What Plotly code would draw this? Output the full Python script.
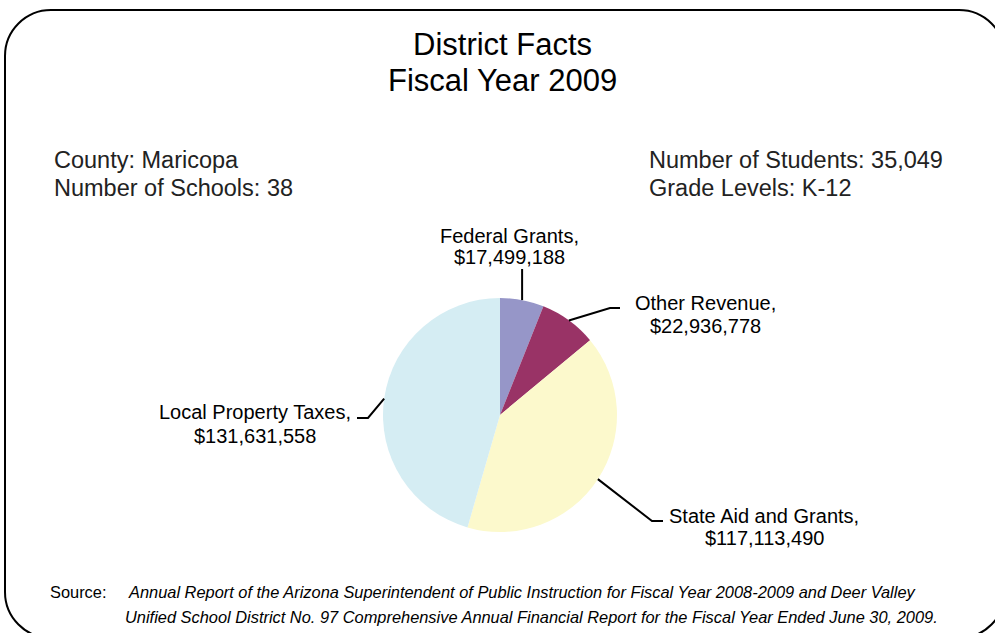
import math
import plotly.graph_objects as go

W, H = 995, 633

# ---- data ----
categories = ["Federal Grants", "Other Revenue", "State Aid and Grants", "Local Property Taxes"]
values = [17499188, 22936778, 117113490, 131631558]
colors = ["#9696c8", "#993366", "#fcf9cc", "#d5edf3"]

title_lines = ["District Facts", "Fiscal Year 2009"]
info_left = ["County: Maricopa", "Number of Schools: 38"]
info_right = ["Number of Students: 35,049", "Grade Levels: K-12"]
source_lines = [
    "Annual Report of the Arizona Superintendent of Public Instruction for Fiscal Year 2008-2009 and Deer Valley",
    "Unified School District No. 97 Comprehensive Annual Financial Report for the Fiscal Year Ended June 30, 2009.",
]


def px(x):
    return x / W


def py(y):
    return 1 - y / H


FONT = "Liberation Sans, Arial, Helvetica, sans-serif"
NARROW = "Liberation Sans Narrow, Arial Narrow, Liberation Sans, sans-serif"

# pie geometry (pixels)
cx, cy, R = 500, 415, 117

fig = go.Figure()
fig.add_trace(go.Pie(
    labels=categories,
    values=values,
    marker=dict(colors=colors, line=dict(width=0)),
    sort=False,
    direction="clockwise",
    rotation=0,
    textinfo="none",
    hoverinfo="label+value+percent",
    showlegend=False,
    domain=dict(x=[px(cx - R), px(cx + R)], y=[py(cy + R), py(cy - R)]),
))

annotations = []
# title
for t, yc in zip(title_lines, [44, 80]):
    annotations.append(dict(text=t, x=px(502), y=py(yc), xref="paper", yref="paper",
                            xanchor="center", yanchor="middle", showarrow=False,
                            font=dict(family=FONT, size=31, color="#000")))
# info
for t, yc in zip(info_left, [160, 188]):
    annotations.append(dict(text=t, x=px(52), y=py(yc), xref="paper", yref="paper",
                            xanchor="left", yanchor="middle", showarrow=False,
                            font=dict(family=FONT, size=23.5, color="#222")))
for t, yc in zip(info_right, [160, 188]):
    annotations.append(dict(text=t, x=px(647), y=py(yc), xref="paper", yref="paper",
                            xanchor="left", yanchor="middle", showarrow=False,
                            font=dict(family=FONT, size=23.5, color="#222")))

# slice labels
label_pos = [(509, 236, 257), (705, 303, 326), (764, 516, 538), (255, 412, 436)]
for cat, v, (lx, y1, y2) in zip(categories, values, label_pos):
    for t, yc in zip([cat + ",", "${:,}".format(v)], [y1, y2]):
        annotations.append(dict(text=t, x=px(lx), y=py(yc), xref="paper", yref="paper",
                                xanchor="center", yanchor="middle", showarrow=False,
                                font=dict(family=FONT, size=20, color="#000")))

# source
annotations.append(dict(text="Source:", x=px(48), y=py(592), xref="paper", yref="paper",
                        xanchor="left", yanchor="middle", showarrow=False,
                        font=dict(family=NARROW, size=16.4, color="#000")))
for t, xl, yc in zip(source_lines, [126, 123], [592, 617]):
    annotations.append(dict(text="<i>" + t + "</i>", x=px(xl), y=py(yc), xref="paper", yref="paper",
                            xanchor="left", yanchor="middle", showarrow=False,
                            font=dict(family=NARROW, size=16.4, color="#000")))

# leader lines: from slice mid-angle on pie edge to label elbow
total = sum(values)
elbows = [
    [(None, 269)],
    [(610, 308), (620, 308)],
    [(652, 521), (663, 521)],
    [(368, 418), (357, 418)],
]
shapes = []
cum = 0
for v, el in zip(values, elbows):
    mid = (cum + v / 2) / total * 2 * math.pi
    cum += v
    ex = cx + R * math.sin(mid)
    ey = cy - R * math.cos(mid)
    path = "M {} {}".format(px(ex), py(ey))
    for (x, y) in el:
        x = ex if x is None else x
        path += " L {} {}".format(px(x), py(y))
    shapes.append(dict(type="path", path=path, xref="paper", yref="paper",
                       line=dict(color="#000", width=2)))

# rounded border
L, T, Rr, B, rc = 5, 10, 1005, 638, 46
k = 0.4477
pts = [
    "M {} {}".format(px(L), py(T + rc)),
    "C {} {}, {} {}, {} {}".format(px(L), py(T + rc * k), px(L + rc * k), py(T), px(L + rc), py(T)),
    "L {} {}".format(px(Rr - rc), py(T)),
    "C {} {}, {} {}, {} {}".format(px(Rr - rc * k), py(T), px(Rr), py(T + rc * k), px(Rr), py(T + rc)),
    "L {} {}".format(px(Rr), py(B - rc)),
    "C {} {}, {} {}, {} {}".format(px(Rr), py(B - rc * k), px(Rr - rc * k), py(B), px(Rr - rc), py(B)),
    "L {} {}".format(px(L + rc), py(B)),
    "C {} {}, {} {}, {} {}".format(px(L + rc * k), py(B), px(L), py(B - rc * k), px(L), py(B - rc)),
    "Z",
]
shapes.append(dict(type="path", path=" ".join(pts), xref="paper", yref="paper",
                   line=dict(color="#000", width=2), layer="below"))

fig.update_layout(
    width=W, height=H, autosize=False,
    margin=dict(l=0, r=0, t=0, b=0),
    paper_bgcolor="white", plot_bgcolor="white",
    annotations=annotations, shapes=shapes,
)

fig.write_html("out.html")
